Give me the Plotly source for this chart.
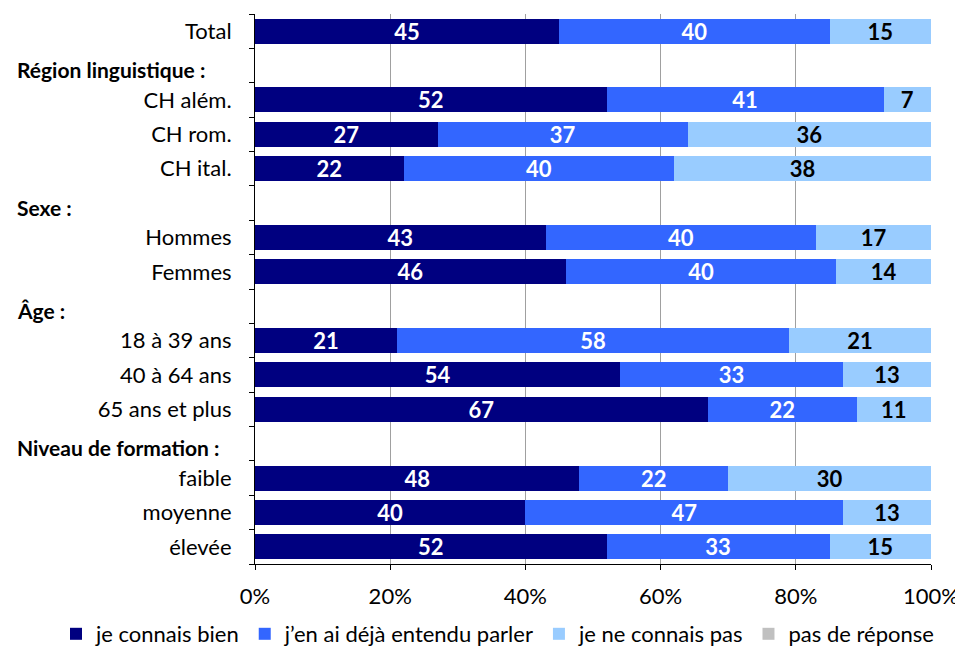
import plotly.graph_objects as go

rows = ["Total", "H1", "CH além.", "CH rom.", "CH ital.", "H2", "Hommes", "Femmes",
        "H3", "18 à 39 ans", "40 à 64 ans", "65 ans et plus", "H4", "faible", "moyenne", "élevée"]
headers = {"H1": "Région linguistique :", "H2": "Sexe :", "H3": "Âge :", "H4": "Niveau de formation :"}

connais_bien = [45, None, 52, 27, 22, None, 43, 46, None, 21, 54, 67, None, 48, 40, 52]
entendu = [40, None, 41, 37, 40, None, 40, 40, None, 58, 33, 22, None, 22, 47, 33]
connais_pas = [15, None, 7, 36, 38, None, 17, 14, None, 21, 13, 11, None, 30, 13, 15]
pas_reponse = [0, None, 0, 0, 0, None, 0, 0, None, 0, 0, 0, None, 0, 0, 0]

x_ticks = [0, 20, 40, 60, 80, 100]
x_tick_labels = ["0%", "20%", "40%", "60%", "80%", "100%"]

series = [
    ("je connais bien", connais_bien, "#000080", "white"),
    ("j’en ai déjà entendu parler", entendu, "#3366FF", "white"),
    ("je ne connais pas", connais_pas, "#99CCFF", "black"),
    ("pas de réponse", pas_reponse, "#C0C0C0", "black"),
]

FONT = "Lato"
fig = go.Figure()
for name, vals, color, tcol in series:
    texts = [str(v) if v else "" for v in vals]
    fig.add_trace(go.Bar(
        y=rows, x=vals, name=name, orientation="h",
        marker=dict(color=color, line=dict(width=0)),
        text=texts, textposition="inside", insidetextanchor="middle",
        textangle=0, constraintext="none",
        textfont=dict(family=FONT, size=22, color=tcol, weight="bold"),
        hoverinfo="skip",
    ))

ticktext = ["" if r in headers else r for r in rows]

# page body has an 8px offset
OFF = 8
W, H = 963 - OFF, 648 - OFF
L = 255 - OFF
T = 14 - OFF
R = W - (931 - OFF)
B = H - (564 - OFF)
pw = W - L - R
ph = H - T - B

annotations = []
for key, label in headers.items():
    annotations.append(dict(
        x=(15 - OFF - L) / pw, xref="paper", y=key, yref="y", text="<b>" + label + "</b>",
        showarrow=False, xanchor="left", yanchor="middle", yshift=-4,
        font=dict(family=FONT, size=21, color="black")))

fig.update_layout(
    barmode="stack", bargap=0.27,
    width=W, height=H,
    margin=dict(l=L, r=R, t=T, b=B, autoexpand=False),
    plot_bgcolor="white", paper_bgcolor="white",
    font=dict(family=FONT, size=22, color="black"),
    xaxis=dict(range=[0, 100], tickmode="array", tickvals=x_ticks, ticktext=x_tick_labels,
               showgrid=True, gridcolor="#A0A0A0", gridwidth=1, zeroline=False,
               showline=True, linecolor="black", linewidth=1,
               ticks="outside", ticklen=5, tickcolor="black", tickangle=0,
               automargin=False, ticklabelstandoff=8,
               tickfont=dict(family=FONT, size=22), fixedrange=True),
    yaxis=dict(categoryorder="array", categoryarray=rows, autorange="reversed",
               tickmode="array", tickvals=rows, ticktext=ticktext,
               showline=True, linecolor="black", linewidth=1, automargin=False,
               ticks="outside", ticklen=5, tickcolor="black", tickson="boundaries",
               ticklabelstandoff=18,
               tickfont=dict(family=FONT, size=22), showgrid=False, fixedrange=True),
    legend=dict(orientation="h", x=(56 - OFF - L) / pw, xref="paper", xanchor="left",
                y=-(634 - 564) / ph, yref="paper", yanchor="middle",
                font=dict(family=FONT, size=22), bgcolor="rgba(0,0,0,0)",
                traceorder="normal", itemwidth=30, tracegroupgap=0),
    annotations=annotations,
    showlegend=True,
)

fig.write_html("out.html")
